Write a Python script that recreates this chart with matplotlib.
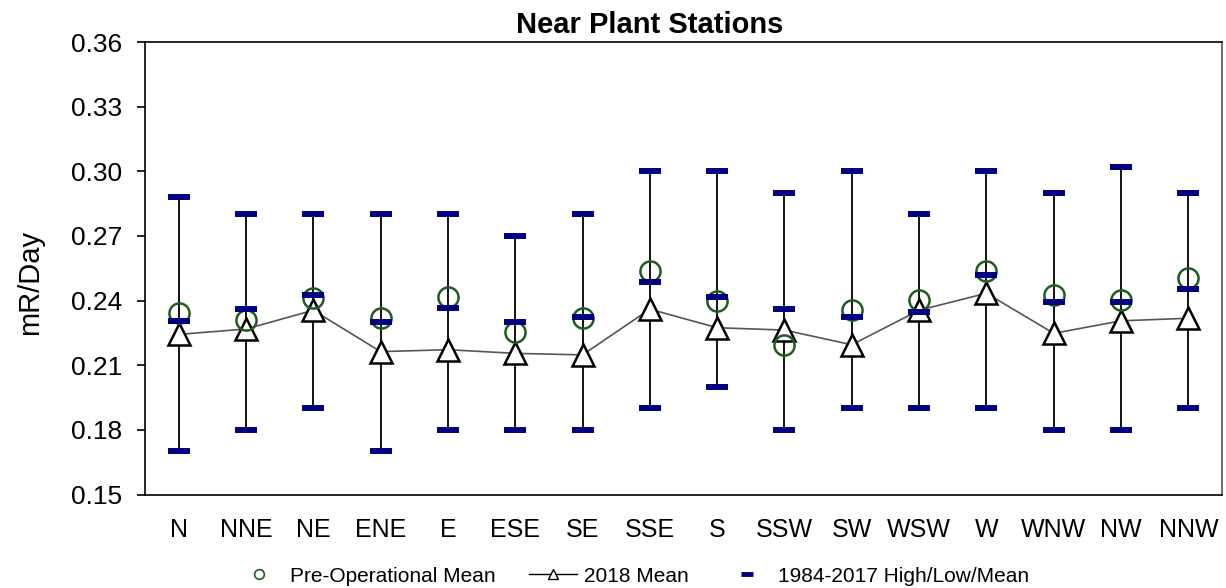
import matplotlib
matplotlib.use("Agg")
import matplotlib.pyplot as plt
from matplotlib.lines import Line2D

plt.rcParams['font.family'] = ['Liberation Sans', 'DejaVu Sans']

categories = ["N", "NNE", "NE", "ENE", "E", "ESE", "SE", "SSE", "S", "SSW",
              "SW", "WSW", "W", "WNW", "NW", "NNW"]
hist_high = [0.288, 0.28, 0.28, 0.28, 0.28, 0.27, 0.28, 0.30, 0.30, 0.29,
             0.30, 0.28, 0.30, 0.29, 0.302, 0.29]
hist_low = [0.17, 0.18, 0.19, 0.17, 0.18, 0.18, 0.18, 0.19, 0.20, 0.18,
            0.19, 0.19, 0.19, 0.18, 0.18, 0.19]
hist_mean = [0.2305, 0.2363, 0.2425, 0.230, 0.2365, 0.230, 0.2325, 0.2484, 0.2417, 0.2359,
             0.2323, 0.2348, 0.2519, 0.2394, 0.2394, 0.2454]
preop_mean = [0.2342, 0.2309, 0.2414, 0.2317, 0.2416, 0.2253, 0.2317, 0.2537, 0.2396, 0.2195,
              0.2355, 0.2403, 0.2537, 0.2426, 0.2402, 0.2504]
mean_2018 = [0.2243, 0.2268, 0.2355, 0.2163, 0.2172, 0.2155, 0.2148, 0.2360, 0.2274, 0.2263,
             0.2195, 0.2355, 0.2434, 0.2248, 0.2306, 0.2318]
yticks = [0.15, 0.18, 0.21, 0.24, 0.27, 0.30, 0.33, 0.36]

navy = "#000080"
green = "#1f5c1f"
W, H = 1226, 588

fig = plt.figure(figsize=(W / 100, H / 100), dpi=100)
ax = fig.add_axes([145 / W, 1 - 494.5 / H, (1222 - 145) / W, (494.5 - 42) / H])

x = list(range(len(categories)))
ax.vlines(x, hist_low, hist_high, color="black", lw=1.3, zorder=1)
ax.plot(x, mean_2018, color="#555555", lw=1.2, marker="^", markersize=16,
        markerfacecolor="white", markeredgecolor="black", markeredgewidth=1.8, zorder=2)
ax.plot(x, preop_mean, ls="none", marker="o", markersize=14.5,
        markerfacecolor="none", markeredgecolor=green, markeredgewidth=1.8, zorder=3)
for vals in (hist_high, hist_low, hist_mean):
    ax.plot(x, vals, ls="none", marker="_", markersize=16, markeredgewidth=4.3,
            color=navy, zorder=4)

ax.set_xlim(-0.5, len(categories) - 0.5)
ax.set_ylim(0.15, 0.36)
ax.set_yticks(yticks)
ax.set_yticklabels([f"{v:.2f}" for v in yticks], fontsize=19)
ax.set_xticks(x)
ax.set_xticklabels(categories, fontsize=18)
ax.tick_params(axis="x", length=0, pad=17)
ax.tick_params(axis="y", length=5.8, width=1.2, direction="out", pad=10.8)
for s in ax.spines.values():
    s.set_linewidth(1.2)
ax.spines["right"].set_color("#555555")

fig.text(30 / W, 1 - 282 / H, "mR/Day", fontsize=21, rotation=90,
         ha="center", va="center")
fig.text(650 / W, 1 - 33 / H, "Near Plant Stations", fontsize=21,
         fontweight="bold", ha="center", va="baseline")

handles = [
    Line2D([], [], ls="none", marker="o", markersize=7, markerfacecolor="none",
           markeredgecolor=green, markeredgewidth=1.2),
    Line2D([], [], color="black", lw=1.0, marker="^", markersize=7,
           markerfacecolor="white", markeredgecolor="black", markeredgewidth=1.0),
    Line2D([], [], ls="none", marker="_", markersize=8, markeredgewidth=3.5, color=navy),
]
fig.legend(handles, ["Pre-Operational Mean", "2018 Mean", "1984-2017 High/Low/Mean"],
           loc="center", bbox_to_anchor=(632 / W, 1 - 576 / H), ncol=3, frameon=False,
           fontsize=15, columnspacing=1.6, handlelength=2.3, handletextpad=0.35)

fig.savefig("out.png", dpi=100)
